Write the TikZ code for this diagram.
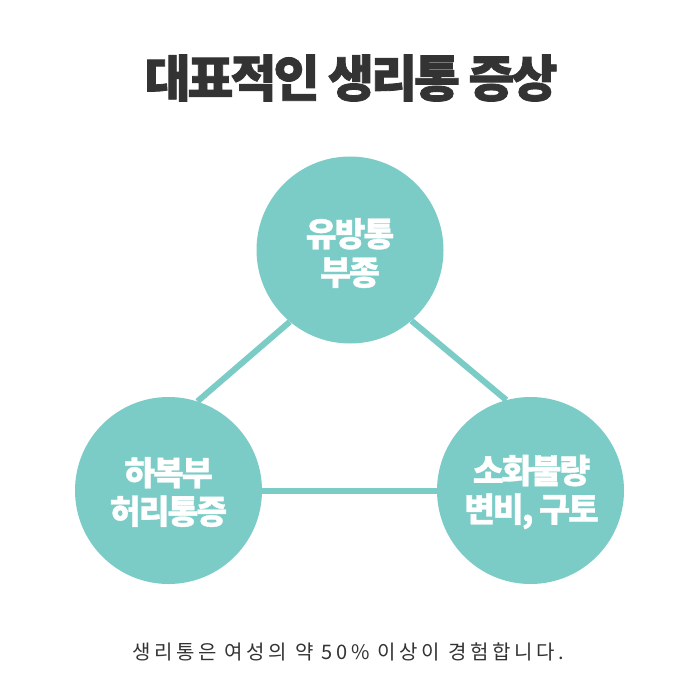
\documentclass[tikz,border=0pt]{standalone}
\usepackage{fontspec}
\newfontfamily\krtitle[LetterSpace=-6,BoldFeatures={FakeBold=1.6}]{Noto Sans CJK KR}
\newfontfamily\krtight[LetterSpace=-6,BoldFeatures={FakeBold=1.0}]{Noto Sans CJK KR}
\newfontfamily\krlight[LetterSpace=18]{Noto Sans CJK KR}
\definecolor{teal}{HTML}{7BCCC6}
\definecolor{dark}{HTML}{333333}
\begin{document}
\begin{tikzpicture}[x=1pt,y=-1pt,
  bubble/.style={circle,fill=teal,minimum size=187pt,inner sep=0pt,text=white,align=center,font=\krtight\bfseries\fontsize{33.5}{38.5}\selectfont},
  link/.style={draw=teal,line width=6pt}]
\useasboundingbox[fill=white] (0,0) rectangle (700,700);
\node[font=\krtitle\bfseries\fontsize{50}{55}\selectfont,text=dark] (title) at (351,78) {대표적인 생리통 증상};
\node[bubble] (top) at (350,250) {};
\node[bubble] (left) at (168.5,490.5) {};
\node[bubble] (right) at (530.5,490.5) {};
\path[link] (top.-130) -- (left.72);
\path[link] (top.-49) -- (right.105);
\path[link] (left) -- (right);
\node[bubble,fill=none] (ttop) at (350,253) {유방통\\부종};
\node[bubble,fill=none] (tleft) at (168.5,492) {하복부\\허리통증};
\node[bubble,fill=none] (tright) at (531.5,492) {소화불량\\변비, 구토};
\node[font=\krlight\fontsize{20}{22}\selectfont,text=dark] (note) at (348,652) {생리통은 여성의 약 50\% 이상이 경험합니다.};
\end{tikzpicture}
\end{document}
